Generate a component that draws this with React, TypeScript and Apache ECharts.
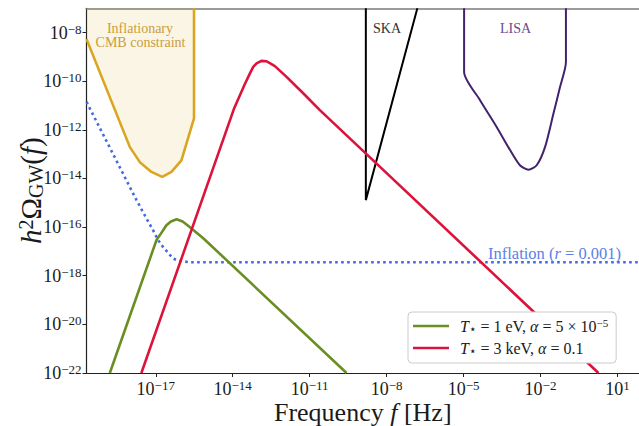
import React, { useEffect, useRef } from 'react';
import * as echarts from 'echarts';

// axis range, in powers of ten
const X_MIN_EXP = -19.7;
const X_MAX_EXP = 1.84;
const Y_MIN_EXP = -22;
const Y_MAX_EXP = -7;
const xTickExps = [-17, -14, -11, -8, -5, -2, 1];
const yTickExps = [-22, -20, -18, -16, -14, -12, -10, -8];

// Inflationary CMB constraint (shaded region above the curve)
const cmbFreq = [2.0e-20, 9.8e-19, 2.4e-18, 6.8e-18, 1.78e-17, 4.1e-17, 1.0e-16, 3.1e-16, 3.1e-16];
const cmbOmega = [5.4e-9, 1.95e-13, 4.7e-14, 1.86e-14, 1.17e-14, 1.86e-14, 5.6e-14, 3.0e-12, 1e-7];

// Inflation (r = 0.001)
const inflFreq = [2.0e-20, 1.78e-18, 3.7e-18, 7.8e-18, 1.23e-17, 1.9e-17, 4.7e-17, 6.6e-17, 1.0e-16, 2.1e-16, 1e2];
const inflOmega = [1.41e-11, 1.29e-15, 3.1e-16, 7.6e-17, 2.95e-17, 1.55e-17, 5.1e-18, 4.4e-18, 4.0e-18, 3.6e-18, 3.6e-18];

// T = 1 eV, alpha = 5e-5
const greenFreq = [1.62e-19, 1.07e-17, 1.45e-17, 2.6e-17, 3.9e-17, 6.5e-17, 1.12e-16, 2.1e-16, 7.1e-16, 2.75e-10];
const greenOmega = [1e-22, 2.95e-17, 4.7e-17, 1.2e-16, 1.7e-16, 2.1e-16, 1.7e-16, 1.02e-16, 3.5e-17, 1e-22];

// T = 3 keV, alpha = 0.1
const redFreq = [2.75e-18, 1.1e-14, 2.95e-14, 4.7e-14, 6.3e-14, 8.5e-14, 1.32e-13, 2.1e-13, 2.8e-13, 4.4e-13, 1.26e-12, 5.6e-12, 2.5e-11, 1.82];
const redOmega = [1e-22, 7.0e-12, 7.5e-11, 2.1e-10, 3.9e-10, 5.4e-10, 6.9e-10, 6.6e-10, 5.6e-10, 4.2e-10, 1.51e-10, 3.2e-11, 6.5e-12, 1e-22];

// SKA
const skaFreq = [1.55e-9, 1.55e-9, 1.58e-7];
const skaOmega = [1e-7, 1.29e-15, 1e-7];

// LISA
const lisaFreq = [1.05e-5, 1.05e-5, 4.4e-5, 1.95e-4, 6.5e-4, 1.58e-3, 3.4e-3, 7.1e-3, 1.51e-2, 3.2e-2, 5.8e-2, 9.8e-2, 9.8e-2];
const lisaOmega = [1e-7, 2.4e-10, 1.66e-11, 1.32e-12, 1.48e-13, 3.5e-14, 2.3e-14, 3.5e-14, 2.0e-13, 4.7e-12, 5.9e-11, 6.2e-10, 1e-7];

const SERIF = "'Liberation Serif', 'DejaVu Serif', serif";
const INK = '#1a1a1a';

const pairs = (xs: number[], ys: number[]) => xs.map((x, i) => [Math.log10(x), Math.log10(ys[i])]);

const expLabel = (v: number) => {
  const e = Math.round(v);
  const s = e < 0 ? '\u2212' + Math.abs(e) : String(e);
  return `{b|10}{e|${s}}`;
};

const tickRich = {
  b: { fontFamily: SERIF, fontSize: 18, lineHeight: 20, verticalAlign: 'middle', color: INK },
  e: { fontFamily: SERIF, fontSize: 13, lineHeight: 7, verticalAlign: 'top', color: INK },
};

const legendNames: Record<string, string> = {
  green: '{n0|}{i|T}{sub|\u22c6}{n| = 1 eV, }{i|\u03b1}{n| = 5 \u00d7 10}{sup|\u22125}',
  red: '{n0|}{i|T}{sub|\u22c6}{n| = 3 keV, }{i|\u03b1}{n| = 0.1}',
};

export default function App() {
  const ref = useRef<HTMLDivElement>(null);
  useEffect(() => {
    if (!ref.current) return;
    const chart = echarts.init(ref.current, undefined, { renderer: 'svg' });
    const option: any = {
      animation: false,
      backgroundColor: '#ffffff',
      grid: { left: 86.5, right: 0, top: 8.3, bottom: 53, containLabel: false, outerBoundsMode: 'none' },
      xAxis: [
        {
          type: 'value',
          min: X_MIN_EXP,
          max: X_MAX_EXP,
          position: 'bottom',
          name: '{n|Frequency }{i|f}{n| [Hz]}',
          nameLocation: 'middle',
          nameGap: 26,
          nameMoveOverlap: false,
          nameTextStyle: {
            verticalAlign: 'top',
            rich: {
              n: { fontFamily: SERIF, fontSize: 26, lineHeight: 26, color: INK },
              i: { fontFamily: SERIF, fontSize: 26, lineHeight: 26, fontStyle: 'italic', color: INK },
            },
          },
          axisLine: { show: true, onZero: false, lineStyle: { color: '#222', width: 1.2 } },
          axisTick: { show: true, length: 4, inside: false, customValues: xTickExps, lineStyle: { color: '#222', width: 1 } },
          axisLabel: { show: true, margin: 6, customValues: xTickExps, formatter: expLabel, rich: tickRich },
          splitLine: { show: false },
        },
        {
          type: 'value',
          min: X_MIN_EXP,
          max: X_MAX_EXP,
          position: 'top',
          axisLine: { show: true, onZero: false, lineStyle: { color: '#7a7a7a', width: 1.6 } },
          axisTick: { show: false },
          axisLabel: { show: false },
          splitLine: { show: false },
        },
      ],
      yAxis: {
        type: 'value',
        min: Y_MIN_EXP,
        max: Y_MAX_EXP,
        name: '{i|h}{sup|2}{n|\u03a9}{sub|GW}{n|(}{i|f}{n|)}',
        nameLocation: 'middle',
        nameGap: 41,
        nameMoveOverlap: false,
        nameRotate: 90,
        nameTextStyle: {
          rich: {
            n: { fontFamily: SERIF, fontSize: 29, lineHeight: 30, verticalAlign: 'middle', color: INK },
            i: { fontFamily: SERIF, fontSize: 29, lineHeight: 30, verticalAlign: 'middle', fontStyle: 'italic', color: INK },
            sup: { fontFamily: SERIF, fontSize: 20, lineHeight: 16, verticalAlign: 'top', color: INK },
            sub: { fontFamily: SERIF, fontSize: 20, lineHeight: 16, verticalAlign: 'bottom', color: INK },
          },
        },
        axisLine: { show: true, onZero: false, lineStyle: { color: '#222', width: 1.2 } },
        axisTick: { show: true, length: 4, inside: false, customValues: yTickExps, lineStyle: { color: '#222', width: 1 } },
        axisLabel: { show: true, margin: 5, customValues: yTickExps, formatter: expLabel, rich: tickRich },
        splitLine: { show: false },
      },
      legend: {
        data: ['green', 'red'],
        orient: 'vertical',
        left: 408,
        top: 312,
        z: 20,
        padding: [5, 8, 6, 5],
        itemGap: 5,
        itemWidth: 36,
        itemHeight: 2.6,
        icon: 'rect',
        backgroundColor: '#ffffff',
        borderColor: '#cccccc',
        borderWidth: 1,
        borderRadius: 4,
        formatter: (name: string) => legendNames[name],
        textStyle: {
          rich: {
            n0: { fontFamily: SERIF, fontSize: 16, width: 6, lineHeight: 18 },
            n: { fontFamily: SERIF, fontSize: 16, lineHeight: 18, verticalAlign: 'middle', color: INK },
            i: { fontFamily: SERIF, fontSize: 16, lineHeight: 18, verticalAlign: 'middle', fontStyle: 'italic', color: INK },
            sub: { fontFamily: "'DejaVu Sans', sans-serif", fontSize: 12, lineHeight: 9, verticalAlign: 'bottom', color: INK },
            sup: { fontFamily: SERIF, fontSize: 11, lineHeight: 10, verticalAlign: 'top', color: INK },
          },
        },
      },
      series: [
        {
          name: 'cmb',
          type: 'line',
          data: pairs(cmbFreq, cmbOmega),
          symbol: 'none',
          lineStyle: { color: '#DAA520', width: 2.6 },
          areaStyle: { color: 'rgba(218,165,32,0.16)', origin: 'end' },
          z: 2,
        },
        {
          name: 'inflation',
          type: 'line',
          data: pairs(inflFreq, inflOmega),
          symbol: 'none',
          lineStyle: { color: '#4169E1', width: 2.6, type: [2.6, 3.4] },
          z: 2,
        },
        {
          name: 'ska',
          type: 'line',
          data: pairs(skaFreq, skaOmega),
          symbol: 'none',
          lineStyle: { color: '#000000', width: 2 },
          z: 2,
        },
        {
          name: 'lisa',
          type: 'line',
          data: pairs(lisaFreq, lisaOmega),
          symbol: 'none',
          smooth: 0.25,
          lineStyle: { color: '#41236b', width: 2 },
          z: 2,
        },
        {
          name: 'green',
          type: 'line',
          data: pairs(greenFreq, greenOmega),
          symbol: 'none',
          lineStyle: { color: '#6B8E23', width: 2.6 },
          itemStyle: { color: '#6B8E23' },
          z: 3,
        },
        {
          name: 'red',
          type: 'line',
          data: pairs(redFreq, redOmega),
          symbol: 'none',
          lineStyle: { color: '#DC143C', width: 2.6 },
          itemStyle: { color: '#DC143C' },
          z: 3,
        },
      ],
      graphic: [
        {
          type: 'text', x: 140, y: 28, z: 10,
          style: { text: 'Inflationary', x: 0, y: 0, textAlign: 'center', align: 'center', textVerticalAlign: 'middle', verticalAlign: 'middle', fill: '#c99d3c', font: `14px ${SERIF}` },
        },
        {
          type: 'text', x: 140.5, y: 42, z: 10,
          style: { text: 'CMB constraint', x: 0, y: 0, textAlign: 'center', align: 'center', textVerticalAlign: 'middle', verticalAlign: 'middle', fill: '#c99d3c', font: `14px ${SERIF}` },
        },
        {
          type: 'text', x: 387, y: 28, z: 10,
          style: { text: 'SKA', x: 0, y: 0, textAlign: 'center', align: 'center', textVerticalAlign: 'middle', verticalAlign: 'middle', fill: '#333333', font: `14px ${SERIF}` },
        },
        {
          type: 'text', x: 515.5, y: 28, z: 10,
          style: { text: 'LISA', x: 0, y: 0, textAlign: 'center', align: 'center', textVerticalAlign: 'middle', verticalAlign: 'middle', fill: '#6a4a8e', font: `14px ${SERIF}` },
        },
        {
          type: 'text', x: 488, y: 253, z: 10,
          style: {
            text: '{n|Inflation (}{i|r}{n| = 0.001)}',
            x: 0, y: 0,
            textAlign: 'left', align: 'left', textVerticalAlign: 'middle', verticalAlign: 'middle',
            fill: '#5c80e4',
            rich: {
              n: { fontFamily: SERIF, fontSize: 16.5, fill: '#5c80e4', color: '#5c80e4' },
              i: { fontFamily: SERIF, fontSize: 16.5, fontStyle: 'italic', fill: '#5c80e4', color: '#5c80e4' },
            },
          },
        },
      ],
    };
    chart.setOption(option);
    return () => chart.dispose();
  }, []);
  return (
    <div
      ref={ref}
      style={{ position: 'absolute', left: 0, top: 0, width: 639, height: 426, background: '#fff' }}
    />
  );
}
